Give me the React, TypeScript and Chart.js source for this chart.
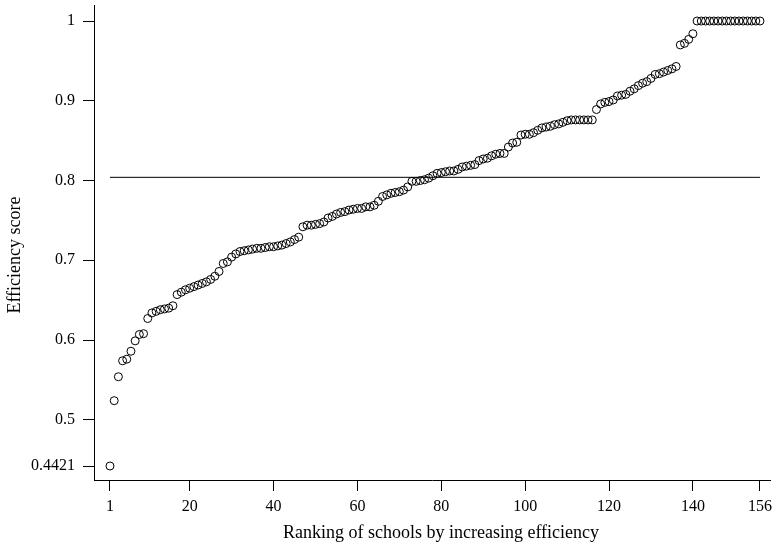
import React, { useEffect, useRef } from "react";
import { Chart, registerables } from "chart.js";

Chart.register(...registerables);

// Efficiency scores of 156 schools, sorted in increasing order
const efficiencyScores: number[] = [
  0.4421, 0.524, 0.554, 0.574, 0.576, 0.586, 0.599, 0.607, 0.608, 0.627,
  0.634, 0.636, 0.638, 0.639, 0.640, 0.643, 0.657, 0.660, 0.663, 0.665,
  0.667, 0.669, 0.671, 0.673, 0.676, 0.680, 0.686, 0.696, 0.698, 0.704,
  0.708, 0.711, 0.712, 0.713, 0.714, 0.715, 0.715, 0.716, 0.717, 0.717,
  0.718, 0.719, 0.721, 0.723, 0.726, 0.729, 0.742, 0.744, 0.744, 0.745,
  0.746, 0.748, 0.753, 0.755, 0.758, 0.760, 0.761, 0.763, 0.764, 0.765,
  0.765, 0.767, 0.767, 0.769, 0.774, 0.780, 0.782, 0.784, 0.785, 0.786,
  0.788, 0.792, 0.799, 0.799, 0.800, 0.801, 0.803, 0.806, 0.809, 0.810,
  0.811, 0.812, 0.812, 0.814, 0.817, 0.818, 0.819, 0.820, 0.825, 0.827,
  0.828, 0.831, 0.833, 0.834, 0.834, 0.842, 0.847, 0.848, 0.857, 0.858,
  0.858, 0.860, 0.863, 0.866, 0.867, 0.868, 0.870, 0.871, 0.873, 0.875,
  0.876, 0.876, 0.876, 0.876, 0.876, 0.876, 0.889, 0.896, 0.898, 0.899,
  0.901, 0.906, 0.907, 0.908, 0.912, 0.915, 0.919, 0.922, 0.924, 0.928,
  0.933, 0.934, 0.936, 0.938, 0.940, 0.943, 0.970, 0.972, 0.977, 0.984,
  1, 1, 1, 1, 1, 1, 1, 1, 1, 1,
  1, 1, 1, 1, 1, 1,
];

const xTickValues: number[] = [1, 20, 40, 60, 80, 100, 120, 140, 156];
const yTickValues: number[] = [0.4421, 0.5, 0.6, 0.7, 0.8, 0.9, 1];
const meanEfficiency = 0.804;
const xTitle = "Ranking of schools by increasing efficiency";
const yTitle = "Efficiency score";

const FAMILY = "'Liberation Serif', 'Times New Roman', serif";

const axisTitlesPlugin = {
  id: "axisTitles",
  afterDraw(chart: any) {
    const { ctx, chartArea } = chart;
    ctx.save();
    ctx.fillStyle = "#000";
    ctx.font = `18px ${FAMILY}`;
    ctx.textAlign = "center";
    ctx.textBaseline = "middle";
    ctx.fillText(xTitle, (chartArea.left + chartArea.right) / 2 + 9, 533);
    ctx.translate(15, 255);
    ctx.rotate(-Math.PI / 2);
    ctx.fillText(yTitle, 0, 0);
    ctx.restore();
  },
};

export default function App() {
  const ref = useRef<HTMLCanvasElement>(null);

  useEffect(() => {
    const firstRank = 1;
    const lastRank = efficiencyScores.length;
    const chart = new Chart(ref.current!, {
      type: "scatter",
      data: {
        datasets: [
          {
            data: efficiencyScores.map((v, i) => ({ x: i + 1, y: v })),
            pointStyle: "circle",
            pointRadius: 4,
            pointHoverRadius: 4,
            borderColor: "#000",
            backgroundColor: "rgba(0,0,0,0)",
            borderWidth: 1,
          },
          {
            type: "line",
            data: [
              { x: firstRank, y: meanEfficiency },
              { x: lastRank, y: meanEfficiency },
            ],
            borderColor: "#000",
            borderWidth: 1,
            pointRadius: 0,
            showLine: true,
            fill: false,
          } as any,
        ],
      },
      options: {
        animation: false,
        responsive: false,
        events: [],
        plugins: { legend: { display: false }, tooltip: { enabled: false } },
        layout: { padding: { top: 5, right: 6, left: 0, bottom: 0 } },
        scales: {
          x: {
            type: "linear",
            min: -2.815,
            max: 158.385,
            afterBuildTicks: (s: any) => {
              s.ticks = xTickValues.map((v) => ({ value: v }));
            },
            afterFit: (s: any) => {
              s.height = 66;
              s.paddingLeft = 0;
              s.paddingRight = 0;
            },
            grid: { drawOnChartArea: false, tickLength: 11, color: "#000", lineWidth: 1 },
            border: { display: true, color: "#000", width: 1 },
            ticks: {
              color: "#000",
              font: { family: FAMILY, size: 16 },
              padding: 6,
              maxRotation: 0,
              autoSkip: false,
              callback: (v: any) => String(v),
            },
          },
          y: {
            type: "linear",
            min: 0.42455,
            max: 1.02006,
            afterBuildTicks: (s: any) => {
              s.ticks = yTickValues.map((v) => ({ value: v }));
            },
            afterFit: (s: any) => {
              s.width = 94;
              s.paddingTop = 0;
              s.paddingBottom = 0;
            },
            grid: { drawOnChartArea: false, tickLength: 11, color: "#000", lineWidth: 1 },
            border: { display: true, color: "#000", width: 1 },
            ticks: {
              color: "#000",
              font: { family: FAMILY, size: 16 },
              padding: 8,
              autoSkip: false,
              callback: (v: any) => String(v),
            },
          },
        },
      },
      plugins: [axisTitlesPlugin],
    });
    return () => chart.destroy();
  }, []);

  return (
    <div style={{ position: "fixed", left: 0, top: 0, width: 776, height: 546, background: "#fff" }}>
      <canvas ref={ref} width={776} height={546} style={{ display: "block" }} />
    </div>
  );
}
